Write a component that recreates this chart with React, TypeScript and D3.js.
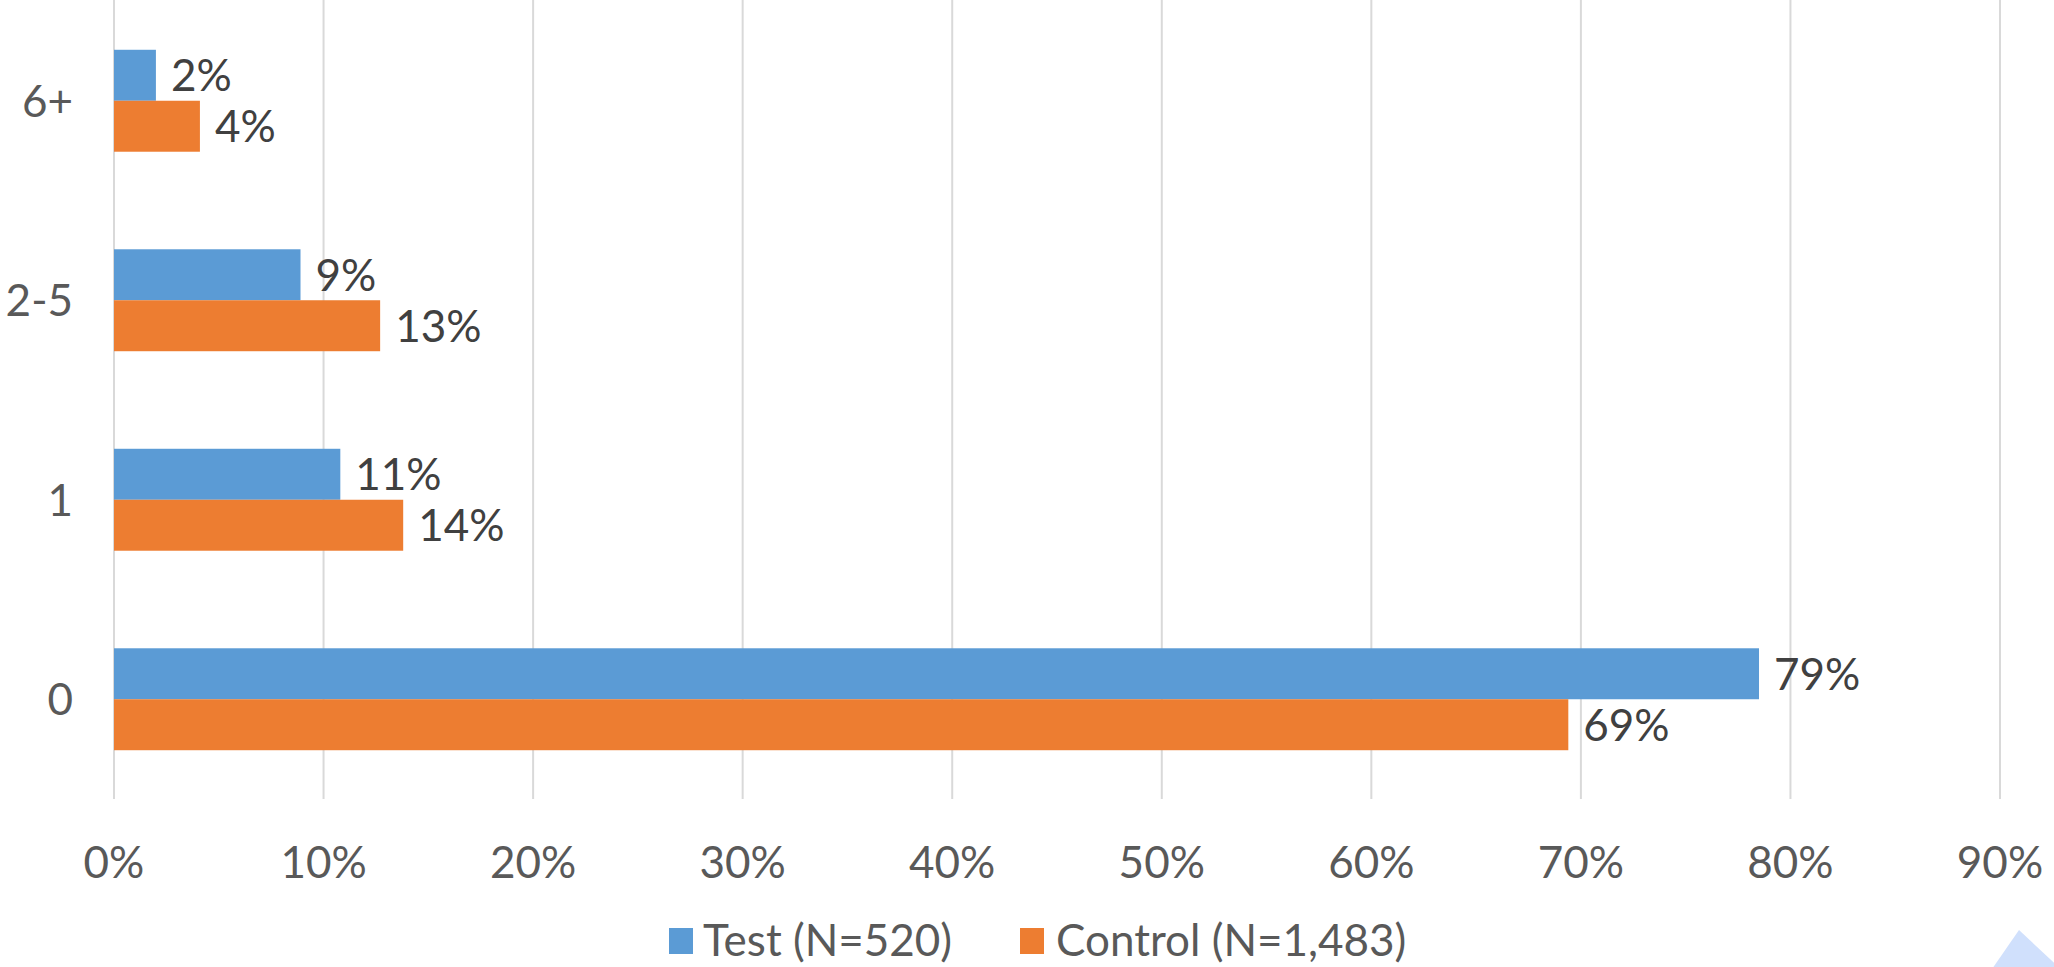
import React from "react";
import * as d3 from "d3";

const categories = ["6+", "2-5", "1", "0"];
const testValues = [2.0, 8.9, 10.8, 78.5];
const controlValues = [4.1, 12.7, 13.8, 69.4];
const seriesNames = ["Test (N=520)", "Control (N=1,483)"];
const xTicks = [0, 10, 20, 30, 40, 50, 60, 70, 80, 90];

const W = 2054;
const H = 967;
const FONT = "Lato, 'Open Sans', sans-serif";
const FS = 44;
const BLUE = "#5b9bd5";
const ORANGE = "#ed7d31";

export default function App() {
  const x = d3.scaleLinear().domain([0, 90]).range([114, 2000]);
  const y = d3
    .scaleBand<string>()
    .domain(categories)
    .range([1, 799])
    .paddingInner(0.489)
    .paddingOuter(0.2445);
  const sub = d3.scaleBand<number>().domain([0, 1]).range([0, y.bandwidth()]);
  const series = [testValues, controlValues];
  const colors = [BLUE, ORANGE];

  return (
    <svg
      width={W}
      height={H}
      style={{ position: "absolute", left: 0, top: 0, background: "#fff" }}
      fontFamily={FONT}
    >
      <rect x={0} y={0} width={W} height={H} fill="#fff" />
      {xTicks.map((t) => (
        <line
          key={"g" + t}
          x1={x(t)}
          x2={x(t)}
          y1={0}
          y2={799}
          stroke="#d9d9d9"
          strokeWidth={2}
        />
      ))}
      {series.map((vals, si) =>
        vals.map((v, i) => {
          const c = categories[i];
          const yy = (y(c) as number) + (sub(si) as number);
          const h = sub.bandwidth();
          return (
            <g key={si + "-" + c}>
              <rect x={x(0)} y={yy} width={x(v) - x(0)} height={h} fill={colors[si]} />
              <text
                x={x(v) + 15}
                y={yy + h / 2 + 16}
                fontSize={FS}
                fill="#404040"
              >
                {Math.round(v) + "%"}
              </text>
            </g>
          );
        })
      )}
      {categories.map((c) => (
        <text
          key={"c" + c}
          x={73}
          y={(y(c) as number) + y.bandwidth() / 2 + 16}
          textAnchor="end"
          fontSize={FS}
          fill="#595959"
        >
          {c}
        </text>
      ))}
      {xTicks.map((t) => (
        <text
          key={"t" + t}
          x={x(t)}
          y={878}
          textAnchor="middle"
          fontSize={FS}
          fill="#595959"
        >
          {t + "%"}
        </text>
      ))}
      <g>
        <rect x={669} y={928} width={24} height={26} fill={BLUE} />
        <text x={703} y={956} fontSize={FS} fill="#595959">
          {seriesNames[0]}
        </text>
        <rect x={1020} y={928} width={24} height={26} fill={ORANGE} />
        <text x={1056} y={956} fontSize={FS} fill="#595959">
          {seriesNames[1]}
        </text>
      </g>
      <polygon points="2019,930 1990,972 2064,972" fill="#d0e0fc" />
    </svg>
  );
}
